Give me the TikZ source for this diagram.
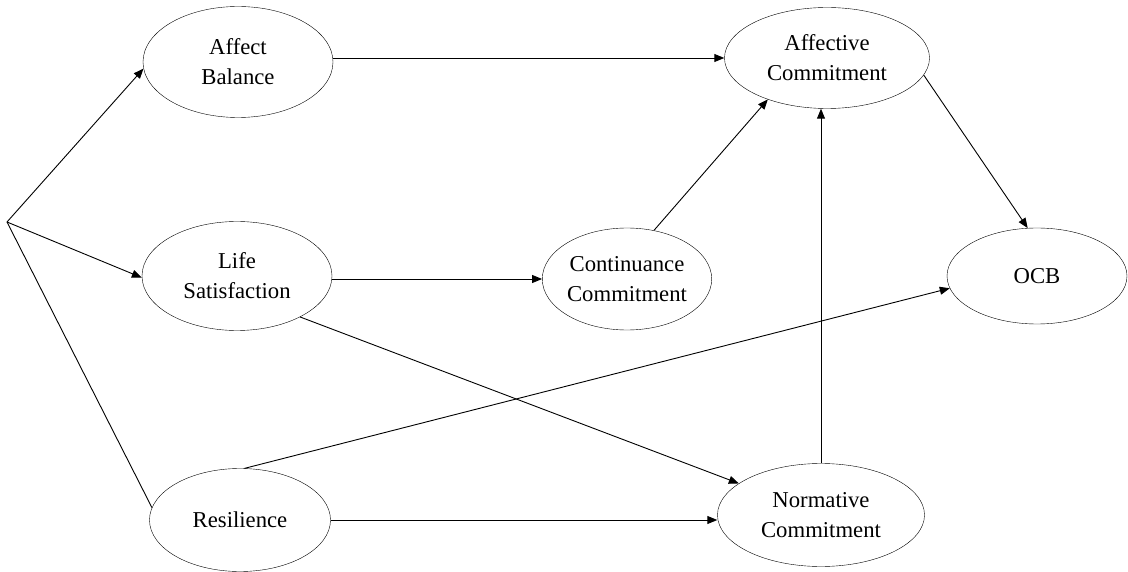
\documentclass[tikz,border=0pt]{standalone}
\usepackage{fontspec}
\setmainfont{Liberation Serif}
\usetikzlibrary{shapes.geometric,arrows.meta}

\begin{document}
\begin{tikzpicture}[x=1pt,y=-1pt,
	construct/.style 2 args={draw,ellipse,inner sep=0pt,minimum width=#1,minimum height=#2,align=center,font=\fontsize{22.7}{30}\selectfont},
	link/.style={-{Triangle[length=10pt,width=8pt]},line width=0.9pt}]
	\useasboundingbox (0,0) rectangle (1128,572);
	\node[construct={190pt}{111pt}] (ab) at (238,62) {Affect\\Balance};
	\node[construct={190pt}{109pt}] (ls) at (237,276) {Life\\Satisfaction};
	\node[construct={181pt}{103pt}] (res) at (240,520) {Resilience};
	\node[construct={168pt}{102pt}] (cc) at (627,279) {Continuance\\Commitment};
	\node[construct={205pt}{101pt}] (ac) at (827,58) {Affective\\Commitment};
	\node[construct={207pt}{103pt}] (nc) at (821,515) {Normative\\Commitment};
	\node[construct={180pt}{96pt}] (ocb) at (1037,276) {OCB};
	\coordinate (src) at (7,222);
	\draw[link] (src) -- (ab.184);
	\draw[link] (src) -- (ls.181);
	\draw[line width=0.9pt] (src) -- (res.172);
	\draw[link] (ab.east |- ac.west) -- (ac.west);
	\draw[link] (ls.east |- cc.west) -- (cc.west);
	\draw[link] (res.east) -- (res.east -| nc.west);
	\draw[link] (cc.61) -- (ac.-145);
	\draw[link] (nc.north) -- (nc.north |- ac.south);
	\draw[link] (ac.-10) -- (ocb.101);
	\draw[link] (ls.-33) -- (nc.159);
	\draw[link] (res.85) -- (ocb.-172);
\end{tikzpicture}
\end{document}
